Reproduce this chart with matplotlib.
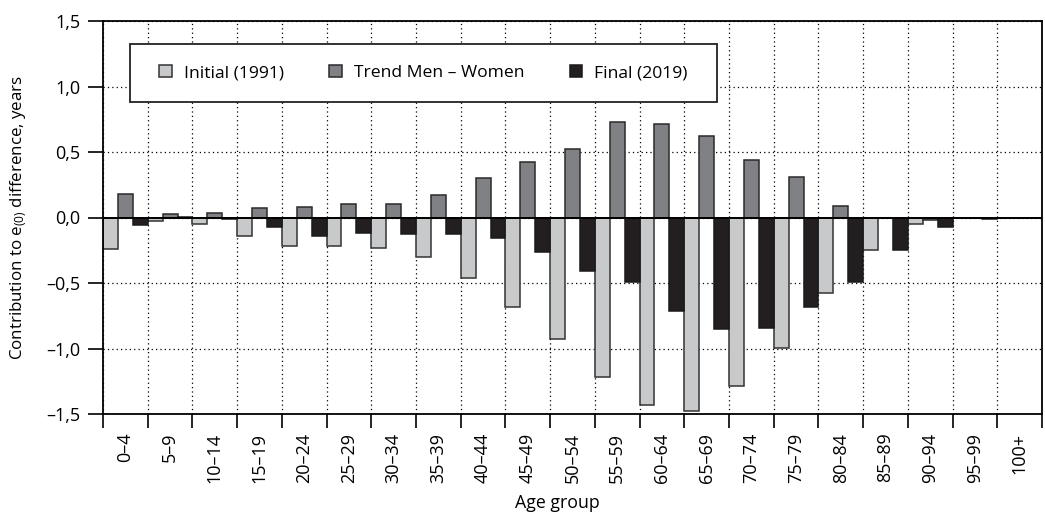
import matplotlib
matplotlib.use("Agg")
import matplotlib.pyplot as plt
import numpy as np
from matplotlib.patches import Rectangle

plt.rcParams["font.family"] = ["Open Sans", "DejaVu Sans"]
plt.rcParams["mathtext.default"] = "regular"
plt.rcParams["font.size"] = 13

age_groups = ["0–4", "5–9", "10–14", "15–19", "20–24", "25–29", "30–34",
              "35–39", "40–44", "45–49", "50–54", "55–59", "60–64", "65–69",
              "70–74", "75–79", "80–84", "85–89", "90–94", "95–99", "100+"]

initial_1991 = [-0.24, -0.03, -0.05, -0.14, -0.22, -0.22, -0.235, -0.30,
                -0.46, -0.685, -0.93, -1.215, -1.43, -1.48, -1.29, -0.995,
                -0.575, -0.25, -0.05, -0.005, 0.0]
trend_men_women = [0.18, 0.025, 0.035, 0.075, 0.08, 0.10, 0.105, 0.175,
                   0.30, 0.425, 0.525, 0.73, 0.715, 0.625, 0.44, 0.31,
                   0.085, -0.005, -0.02, -0.005, 0.0]
final_2019 = [-0.055, 0.003, -0.01, -0.07, -0.14, -0.12, -0.125, -0.125,
              -0.16, -0.26, -0.405, -0.49, -0.71, -0.85, -0.845, -0.685,
              -0.49, -0.25, -0.075, -0.01, 0.0]

series_labels = ["Initial (1991)", "Trend Men – Women", "Final (2019)"]
y_ticks = [-1.5, -1.0, -0.5, 0.0, 0.5, 1.0, 1.5]
y_ticklabels = ["–1,5", "–1,0", "–0,5", "0,0", "0,5", "1,0", "1,5"]

fig = plt.figure(figsize=(10.45, 5.14), dpi=100)
ax = fig.add_axes([103 / 1045, 100 / 514, 939 / 1045, 393 / 514])

n = len(age_groups)
x = np.arange(n)
w = 1 / 3
fills = ["#c8c9cb", "#808185", "#231f20"]
edges = ["#333333", "#2a2a2a", "#1a1a1a"]
series = [initial_1991, trend_men_women, final_2019]
for j, vals in enumerate(series):
    ax.bar(x + w * (j + 0.5), vals, width=w, color=fills[j], edgecolor=edges[j],
           linewidth=1.1, label=series_labels[j], zorder=2)

ax.axhline(0, color="black", linewidth=1.4, zorder=3)

ax.set_xlim(0, n)
ax.set_ylim(-1.5, 1.5)
ax.set_xticks(x + 0.5)
ax.set_xticklabels(age_groups, rotation=90, va="top")
ax.set_xticks(np.arange(n + 1), minor=True)
ax.tick_params(axis="x", which="major", length=0, pad=13.5, labelsize=13)
ax.tick_params(axis="x", which="minor", length=10, width=1.2, direction="out")
ax.set_yticks(y_ticks)
ax.set_yticklabels(y_ticklabels)
ax.tick_params(axis="y", length=10.8, width=1.2, direction="out", pad=5.5, labelsize=13)

ax.grid(True, axis="x", which="minor", color="black", linestyle=(0, (1, 2.5)), linewidth=0.9, zorder=0)
ax.grid(True, axis="y", which="major", color="black", linestyle=(0, (1, 2.5)), linewidth=0.9, zorder=0)
ax.set_axisbelow(True)

for s in ax.spines.values():
    s.set_linewidth(1.3)
    s.set_color("black")

ax.set_ylabel("Contribution to e$_{(0)}$ difference, years", fontsize=12.2)
ax.yaxis.set_label_coords(-0.079, 0.5)
ax.set_xlabel("Age group", fontsize=12.8)
ax.xaxis.set_label_coords(0.4835, -0.203)

# legend box drawn by hand so its size matches
box = Rectangle(((130 - 103) / 939, (414 - 102) / 393), 587 / 939, 58 / 393,
                transform=ax.transAxes, facecolor="white", edgecolor="#222222",
                linewidth=1.3, zorder=4)
ax.add_patch(box)
leg = ax.legend(loc="center", bbox_to_anchor=((423.5 - 103) / 939, (414 - 73) / 393),
                ncol=3, frameon=False, fontsize=12.6, handlelength=0.7, handleheight=0.7,
                handletextpad=0.7, columnspacing=2.6)
leg.set_zorder(5)

fig.savefig("out.png", dpi=100)
